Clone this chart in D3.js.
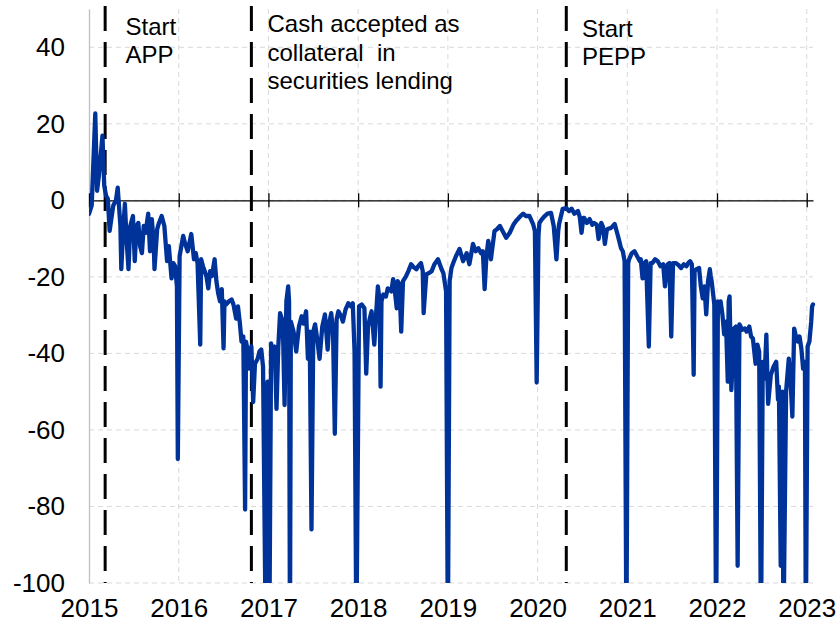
<!DOCTYPE html>
<html>
<head>
<meta charset="utf-8">
<script src="https://cdn.jsdelivr.net/npm/d3@7"></script>
<style>
  body { margin: 0; background: #fff; }
  svg { font-family: "Liberation Sans", Arial, sans-serif; }
</style>
</head>
<body>
<div id="chart-area"></div>
<script>
// dates as decimal years
var dates = [
  2015.00, 2015.03, 2015.07, 2015.09, 2015.11, 2015.15, 2015.17, 2015.19, 2015.21, 2015.23,
  2015.27, 2015.30, 2015.32, 2015.35, 2015.36, 2015.38, 2015.40, 2015.42, 2015.44, 2015.46,
  2015.49, 2015.51, 2015.53, 2015.55, 2015.57, 2015.59, 2015.61, 2015.63, 2015.66, 2015.68,
  2015.70, 2015.72, 2015.73, 2015.76, 2015.78, 2015.81, 2015.84, 2015.87, 2015.89, 2015.92,
  2015.94, 2015.96, 2015.98, 2015.99, 2016.01, 2016.04, 2016.05, 2016.07, 2016.10, 2016.14,
  2016.17, 2016.19, 2016.21, 2016.24, 2016.25, 2016.27, 2016.29, 2016.31, 2016.33, 2016.35,
  2016.37, 2016.40, 2016.42, 2016.44, 2016.46, 2016.48, 2016.50, 2016.51, 2016.53, 2016.56,
  2016.59, 2016.61, 2016.64, 2016.66, 2016.68, 2016.70, 2016.72, 2016.74, 2016.75, 2016.77,
  2016.79, 2016.81, 2016.83, 2016.85, 2016.88, 2016.90, 2016.92, 2016.94, 2016.97, 2016.99,
  2017.01, 2017.03, 2017.05, 2017.07, 2017.09, 2017.11, 2017.13, 2017.16, 2017.18, 2017.20,
  2017.22, 2017.23, 2017.24, 2017.25, 2017.28, 2017.31, 2017.34, 2017.37, 2017.39, 2017.42,
  2017.44, 2017.46, 2017.48, 2017.50, 2017.52, 2017.54, 2017.57, 2017.60, 2017.63, 2017.66,
  2017.68, 2017.70, 2017.72, 2017.74, 2017.76, 2017.78, 2017.81, 2017.83, 2017.86, 2017.89,
  2017.92, 2017.94, 2017.96, 2017.98, 2018.01, 2018.04, 2018.07, 2018.09, 2018.11, 2018.13,
  2018.15, 2018.18, 2018.20, 2018.22, 2018.24, 2018.25, 2018.26, 2018.28, 2018.31, 2018.33,
  2018.37, 2018.39, 2018.41, 2018.43, 2018.44, 2018.46, 2018.48, 2018.50, 2018.53, 2018.56,
  2018.59, 2018.62, 2018.65, 2018.67, 2018.70, 2018.72, 2018.73, 2018.76, 2018.79, 2018.82,
  2018.85, 2018.89, 2018.93, 2018.95, 2018.98, 2019.00, 2019.02, 2019.04, 2019.06, 2019.09,
  2019.13, 2019.17, 2019.21, 2019.24, 2019.28, 2019.31, 2019.34, 2019.37, 2019.39, 2019.41,
  2019.43, 2019.45, 2019.48, 2019.52, 2019.55, 2019.58, 2019.61, 2019.65, 2019.69, 2019.73,
  2019.76, 2019.78, 2019.81, 2019.84, 2019.87, 2019.91, 2019.95, 2019.97, 2019.99, 2020.01,
  2020.02, 2020.05, 2020.08, 2020.11, 2020.15, 2020.18, 2020.21, 2020.23, 2020.24, 2020.28,
  2020.32, 2020.35, 2020.38, 2020.41, 2020.45, 2020.47, 2020.49, 2020.51, 2020.52, 2020.55,
  2020.58, 2020.61, 2020.63, 2020.66, 2020.68, 2020.71, 2020.73, 2020.75, 2020.77, 2020.78,
  2020.82, 2020.86, 2020.89, 2020.91, 2020.93, 2020.95, 2020.97, 2020.99, 2021.01, 2021.02,
  2021.05, 2021.08, 2021.11, 2021.14, 2021.15, 2021.17, 2021.19, 2021.21, 2021.24, 2021.26,
  2021.28, 2021.31, 2021.34, 2021.37, 2021.40, 2021.42, 2021.45, 2021.47, 2021.49, 2021.51,
  2021.54, 2021.57, 2021.60, 2021.63, 2021.66, 2021.68, 2021.70, 2021.72, 2021.74, 2021.75,
  2021.77, 2021.80, 2021.82, 2021.84, 2021.86, 2021.88, 2021.90, 2021.92, 2021.93, 2021.94,
  2021.96, 2021.97, 2021.99, 2022.01, 2022.03, 2022.04, 2022.06, 2022.08, 2022.10, 2022.12,
  2022.13, 2022.14, 2022.16, 2022.19, 2022.21, 2022.23, 2022.25, 2022.28, 2022.31, 2022.33,
  2022.36, 2022.38, 2022.40, 2022.43, 2022.45, 2022.47, 2022.49, 2022.51, 2022.53, 2022.55,
  2022.56, 2022.57, 2022.60, 2022.63, 2022.66, 2022.68, 2022.69, 2022.71, 2022.73, 2022.74,
  2022.77, 2022.80, 2022.82, 2022.84, 2022.86, 2022.88, 2022.90, 2022.92, 2022.94, 2022.96,
  2022.98, 2022.99, 2023.01, 2023.03, 2023.05, 2023.06, 2023.07
];
var values = [
  -3.5, -1.4, 22.7, 2.5, 6.4, 16.9, 3.8, 1.2, 0.4, -8,
  -1.4, 0, 3.3, -6.7, -18, -8, -0.9, -10.6, -18, -6.7,
  -4.1, -15.9, -6.7, -5.9, -12, -13.8, -6.7, -8.5, -3.5, -13.3,
  -4.9, -10.6, -18, -7.5, -5.9, -4.1, -6.7, -15.9, -12, -20.4,
  -16.4, -17.2, -22.5, -67.6, -14.6, -10.6, -9.3, -11.2, -13.3, -8.8,
  -15.4, -13.8, -16.4, -37.7, -15.4, -17.2, -18.5, -20, -23, -18.5,
  -19.8, -15.4, -21.1, -24.3, -26.4, -23.2, -38.7, -26.4, -27.2, -26.4,
  -25.9, -27.2, -30.9, -27.7, -31.7, -36.9, -35.6, -80.8, -36.9, -39.5,
  -44, -38.2, -52.7, -42.7, -41.4, -39.5, -39, -43.5, -115, -47.4,
  -115, -37.4, -42.2, -38.2, -54.5, -38.2, -29.5, -31.7, -53.5, -26.4,
  -22.5, -26.4, -115, -31.7, -34.3, -39.5, -33, -30.3, -32.2, -29,
  -41.4, -34.3, -86, -34.3, -32.4, -35.6, -41.4, -33, -29.8, -39,
  -31.7, -29.5, -34.3, -61, -31.1, -29, -30.3, -31.7, -28.5, -26.9,
  -27.7, -26.9, -39.5, -115, -27.7, -27.2, -28.2, -45.3, -33, -30.9,
  -29, -37.7, -29.8, -22.5, -26.4, -48.7, -26.4, -24.6, -25.1, -23,
  -23.8, -20.6, -23.8, -28.2, -21.1, -21.9, -34.3, -21.1, -20, -18.5,
  -16.7, -17.5, -18, -17.2, -16.4, -18.5, -29.5, -19.3, -19, -18.5,
  -16.7, -15.4, -18, -19, -23.8, -115, -21.1, -17.7, -16.4, -14.6,
  -12.7, -15.9, -13.8, -16.7, -11.4, -13.3, -12.5, -13.8, -13.3, -23.2,
  -14.6, -10.6, -15.4, -8, -7.5, -6.7, -8, -9.8, -8.5, -6.4,
  -5.4, -4.9, -4.1, -3.5, -4.1, -4.1, -6.2, -8, -47.6, -9.3,
  -5.9, -4.9, -4.1, -3.5, -3.3, -6.7, -15.4, -8, -6.2, -2.2,
  -2, -2.8, -2.2, -3.5, -2.8, -4.3, -8.5, -4.6, -4.6, -5.9,
  -4.9, -6.4, -5.9, -6.4, -10.1, -5.9, -7, -11.4, -8, -7.5,
  -7.2, -6.2, -8.8, -10.6, -12.5, -13.3, -15.9, -115, -16.4, -15.4,
  -13.8, -13.3, -14.6, -15.9, -15.4, -20.4, -16.4, -15.9, -38.2, -16.4,
  -16.4, -15.4, -15.9, -17.2, -16.7, -22.5, -16.7, -16.4, -35.6, -16.4,
  -16.4, -16.9, -17.7, -16.7, -17.2, -16.4, -15.9, -16.7, -45.6, -18.5,
  -18, -17.7, -22.5, -25.6, -22.5, -29.8, -21.1, -18, -19.8, -21.1,
  -25.1, -27.2, -115, -26.4, -28.2, -26.4, -29.8, -35, -31.7, -47.4,
  -26.4, -25.1, -49.6, -33.5, -33, -95.5, -32.4, -33.8, -33.5, -34.3,
  -33, -35.6, -36.1, -42.7, -37.7, -39.5, -115, -42.2, -46.6, -35.1,
  -44.8, -53.2, -45.6, -43.5, -42.2, -52.1, -48.7, -95.5, -50, -115,
  -50, -41.4, -47.4, -56.5, -33.5, -35.6, -36.9, -35.6, -38.7, -44,
  -42.2, -115, -38.2, -36.9, -31.7, -27.7, -27.2
];

var yearTicks = [2015, 2016, 2017, 2018, 2019, 2020, 2021, 2022, 2023];
var yTicks = [40, 20, 0, -20, -40, -60, -80, -100];

var eventDates = [2015.18, 2016.81, 2020.32];
var eventLabels = [
  ["Start", "APP"],
  ["Cash accepted as", "collateral  in", "securities lending"],
  ["Start", "PEPP"]
];

var svgWidth = 840, svgHeight = 625;
var plotLeft = 89, plotRight = 813, plotTop = 9, plotBottom = 583;

var svg = d3.select("#chart-area")
    .append("svg")
        .attr("width", svgWidth)
        .attr("height", svgHeight);

var x = d3.scaleLinear()
    .domain([2015, 2023.07])
    .range([plotLeft, plotRight]);

var y = d3.scaleLinear()
    .domain([-100, 50])
    .range([plotBottom, plotTop]);

// grid
svg.append("g")
    .selectAll("line")
    .data(yTicks)
    .enter().append("line")
        .attr("x1", plotLeft)
        .attr("x2", plotRight)
        .attr("y1", function(d){ return y(d); })
        .attr("y2", function(d){ return y(d); })
        .attr("stroke", "#d9d9d9")
        .attr("stroke-width", 1)
        .attr("stroke-dasharray", "5,4");

svg.append("g")
    .selectAll("line")
    .data(yearTicks.slice(1))
    .enter().append("line")
        .attr("x1", function(d){ return x(d); })
        .attr("x2", function(d){ return x(d); })
        .attr("y1", plotTop)
        .attr("y2", plotBottom)
        .attr("stroke", "#d9d9d9")
        .attr("stroke-width", 1)
        .attr("stroke-dasharray", "5,4");

// Y-Axis (plain hyphen for negatives, as in the original)
var yAxisCall = d3.axisLeft(y)
    .tickValues(yTicks)
    .tickSize(0)
    .tickPadding(24)
    .tickFormat(function(d){ return String(d); });
var yAxis = svg.append("g")
    .attr("transform", "translate(" + plotLeft + ",0)")
    .call(yAxisCall);
yAxis.select(".domain").attr("stroke", "#bfbfbf").attr("stroke-width", 1.3);
yAxis.selectAll("text")
    .attr("font-size", "26px")
    .attr("font-family", "Liberation Sans, Arial, sans-serif")
    .attr("fill", "#000");

// X-Axis at zero
var xAxisCall = d3.axisBottom(x)
    .tickValues(yearTicks)
    .tickSize(7)
    .tickSizeOuter(0)
    .tickFormat("");
var xAxis = svg.append("g")
    .attr("transform", "translate(0," + y(0) + ")")
    .call(xAxisCall);
xAxis.select(".domain").attr("stroke", "#000").attr("stroke-width", 1.3);
xAxis.selectAll(".tick line")
    .attr("y1", -7)
    .attr("stroke", "#000")
    .attr("stroke-width", 1.3);

// X labels at the bottom
var xLabelCall = d3.axisBottom(x)
    .tickValues(yearTicks)
    .tickSize(0)
    .tickPadding(0)
    .tickFormat(function(d){ return String(d); });
var xLabels = svg.append("g")
    .attr("transform", "translate(0,599)")
    .call(xLabelCall);
xLabels.select(".domain").remove();
xLabels.selectAll("text")
    .attr("font-size", "26px")
    .attr("font-family", "Liberation Sans, Arial, sans-serif")
    .attr("fill", "#000");

// event lines
svg.append("g")
    .selectAll("line")
    .data(eventDates)
    .enter().append("line")
        .attr("x1", function(d){ return x(d); })
        .attr("x2", function(d){ return x(d); })
        .attr("y1", 6)
        .attr("y2", plotBottom)
        .attr("stroke", "#000")
        .attr("stroke-width", 3)
        .attr("stroke-dasharray", "25,11");

// series
svg.append("clipPath")
    .attr("id", "plot-clip")
  .append("rect")
    .attr("x", plotLeft)
    .attr("y", plotTop)
    .attr("width", plotRight - plotLeft + 5)
    .attr("height", plotBottom - plotTop);

var series = dates.map(function(d, i){ return { date: d, value: values[i] }; });

var line = d3.line()
    .x(function(d){ return x(d.date); })
    .y(function(d){ return y(d.value); });

svg.append("path")
    .datum(series)
    .attr("clip-path", "url(#plot-clip)")
    .attr("fill", "none")
    .attr("stroke", "#003399")
    .attr("stroke-width", 4.3)
    .attr("stroke-linejoin", "round")
    .attr("stroke-linecap", "round")
    .attr("d", line);

// annotations
var labelX = [125.5, 267.5, 582];
var labelY = [35, 32, 37];
var lineGap = [28, 28.5, 28];

eventLabels.forEach(function(lines, i){
    var t = svg.append("text")
        .attr("font-size", "24px")
        .attr("fill", "#000")
        .attr("xml:space", "preserve")
        .style("white-space", "pre");
    lines.forEach(function(s, j){
        t.append("tspan")
            .attr("x", labelX[i])
            .attr("y", labelY[i] + j * lineGap[i])
            .text(s);
    });
});
</script>
</body>
</html>
